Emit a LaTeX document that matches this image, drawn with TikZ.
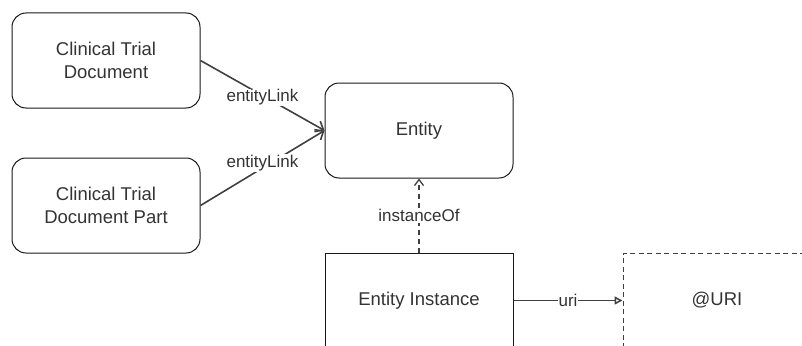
\documentclass[tikz,border=0pt]{standalone}
\usepackage{fontspec}
\setmainfont{Liberation Sans}
\usetikzlibrary{arrows.meta}
\definecolor{txt}{HTML}{333333}
\definecolor{edge}{HTML}{404040}
\begin{document}
\begin{tikzpicture}[x=1pt,y=-1pt,
  box/.style={draw=black!90, line width=1pt, minimum width=188pt, minimum height=95pt,
    text=txt, font=\fontsize{18.5}{22.5}\selectfont, align=center, inner sep=0pt},
  rbox/.style={box, rounded corners=14pt},
  lbl/.style={fill=white, text=txt, font=\fontsize{17}{20}\selectfont, inner sep=1pt},
  link/.style={draw=edge, line width=1.6pt},
  dsh/.style={dash pattern=on 4.5pt off 4.5pt}
]
\useasboundingbox (0,0) rectangle (802,345);
\clip (0,0) rectangle (802,345);
\node[rbox] (ctd) at (106,60.5) {Clinical Trial\\Document};
\node[rbox] (ctdp) at (106,205.5) {Clinical Trial\\Document Part};
\node[rbox] (ent) at (419,130.5) {Entity};
\node[box] (inst) at (419,300.5) {Entity Instance};
\node[box, draw=black!75, dash pattern=on 5pt off 3.5pt] (uri) at (717,300.5) {@URI};

\draw[link, -{Straight Barb[length=7pt,width=12pt]}] (ctd.east) -- node[lbl, pos=0.5, yshift=-2pt] {entityLink} (ent.west);
\draw[link, -{Straight Barb[length=7pt,width=12pt]}] (ctdp.east) -- node[lbl, pos=0.5, yshift=5pt] {entityLink} (ent.west);
\draw[link, line width=1.3pt, dsh, -{Straight Barb[length=6pt,width=9pt]}] (inst.north) -- node[lbl] {instanceOf} (ent.south);
\draw[link, line width=1.5pt, -{Triangle[open,length=8pt,width=8pt]}] (inst.east) -- node[lbl] {uri} (uri.west);
\end{tikzpicture}
\end{document}
